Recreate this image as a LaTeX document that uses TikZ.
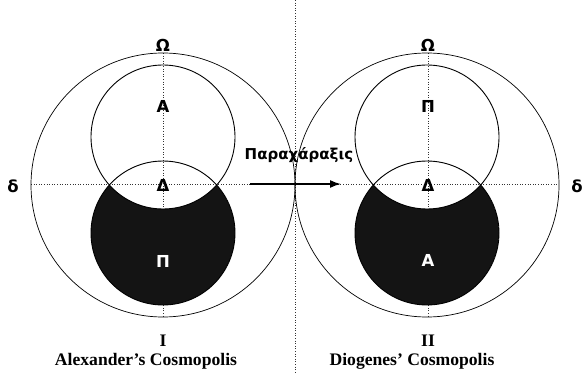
\documentclass[tikz,border=0pt]{standalone}
\usepackage{fontspec}
\setmainfont{Liberation Serif}
\newfontfamily\gsans{DejaVu Sans}
\usetikzlibrary{arrows.meta}
\tikzset{
  dotline/.style={dotted, line width=0.6pt, black!80},
  outerc/.style={line width=0.7pt},
  innerc/.style={line width=0.9pt},
  glabel/.style={font=\gsans\bfseries\fontsize{16.5}{16.5}\selectfont, inner sep=0pt},
  wlabel/.style={glabel, text=white},
  caption/.style={font=\bfseries\fontsize{17.6}{17.6}\selectfont, inner sep=0pt},
  arrowline/.style={line width=1.7pt, -{Latex[length=11pt,width=8pt]}}
}
\begin{document}
\begin{tikzpicture}[x=1pt,y=-1pt]
\useasboundingbox (0,0) rectangle (583,374);
% separator
\coordinate (sepT) at (295,0);
\coordinate (sepB) at (295,374);
\draw[dotline] (sepT) -- (sepB);
% horizontal axis
\coordinate (hL) at (31,184);
\coordinate (hR) at (558,184);
\draw[dotline] (hL) -- (hR);
% vertical axes
\coordinate (vLT) at (163,53);
\coordinate (vLB) at (163,317);
\draw[dotline] (vLT) -- (vLB);
\coordinate (vRT) at (428,53);
\coordinate (vRB) at (428,317);
\draw[dotline] (vRT) -- (vRB);
% ---- left diagram
\begin{scope}
\clip (163,233) circle (72);
\fill[black!92, even odd rule] (163,233) circle (72) (163,137) circle (72);
\end{scope}
\draw[outerc] (163,185) circle (132);
\draw[innerc] (163,137) circle (72);
\draw[innerc] (163,233) circle (72);
% ---- right diagram
\begin{scope}
\clip (427,233) circle (72);
\fill[black!92, even odd rule] (427,233) circle (72) (427,137) circle (72);
\end{scope}
\draw[outerc] (427,185) circle (132);
\draw[innerc] (427,137) circle (72);
\draw[innerc] (427,233) circle (72);
% labels left
\node[glabel, anchor=base] (omL) at (163,52) {Ω};
\node[glabel] (aL) at (163,106) {Α};
\node[glabel] (dL) at (163,185.5) {Δ};
\node[wlabel] (pL) at (163,261) {Π};
\node[glabel] (deL) at (13,186) {δ};
% labels right
\node[glabel, anchor=base] (omR) at (428,52) {Ω};
\node[glabel] (pR) at (428,106) {Π};
\node[glabel] (dR) at (428,185.5) {Δ};
\node[wlabel] (aR) at (428,260) {Α};
\node[glabel] (deR) at (577,186) {δ};
% arrow
\node[font=\gsans\bfseries\fontsize{15}{15}\selectfont, inner sep=0pt] (par) at (299,155) {Παραχάραξις};
\coordinate (arrS) at (250,184);
\coordinate (arrE) at (341,184);
\draw[arrowline] (arrS) -- (arrE);
% captions
\node[caption] (numL) at (163,341) {I};
\node[caption] (capL) at (146,361) {Alexander’s Cosmopolis};
\node[caption] (numR) at (428,341) {II};
\node[caption] (capR) at (412,361) {Diogenes’ Cosmopolis};
\end{tikzpicture}
\end{document}
